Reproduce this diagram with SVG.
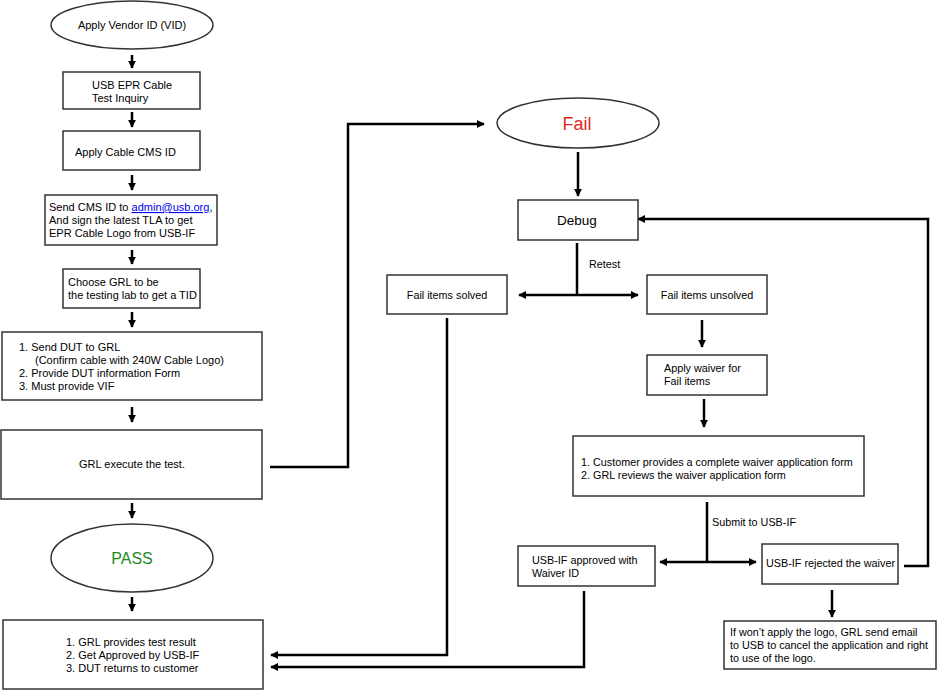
<svg xmlns="http://www.w3.org/2000/svg" width="939" height="690" viewBox="0 0 939 690">
<defs>
<marker id="ah" viewBox="0 0 10 10" refX="9" refY="5" markerWidth="3.2" markerHeight="3.2" orient="auto-start-reverse" markerUnits="strokeWidth">
<path d="M0,0 L10,5 L0,10 z" fill="#000"/>
</marker>
<style>
.n{fill:#fff;stroke:#333;stroke-width:1.5}
.t{font-family:"Liberation Sans",Arial,sans-serif;font-size:11px;fill:#000}
.s{font-size:10.8px}
.m{text-anchor:middle}
.c{fill:none;stroke:#000;stroke-width:2.5}
.a{marker-end:url(#ah)}
</style>
</defs>
<rect width="939" height="690" fill="#fff"/>
<g id="connectors">
<path class="c a" d="M132,55 V68"/>
<path class="c a" d="M132,112 V127"/>
<path class="c a" d="M132,175 V190"/>
<path class="c a" d="M132,250 V264"/>
<path class="c a" d="M132,312 V327"/>
<path class="c a" d="M132,407 V422"/>
<path class="c a" d="M132,503 V518"/>
<path class="c a" d="M132,597 V611"/>
<path class="c a" d="M270,467 H348 V124 H484"/>
<path class="c a" d="M578,152 V196"/>
<path class="c" d="M577,243 V295"/>
<path class="c a" d="M577,295 H519"/>
<path class="c a" d="M577,295 H638"/>
<path class="c a" d="M702,320 V347"/>
<path class="c a" d="M704,399 V427"/>
<path class="c" d="M707,502 V562"/>
<path class="c a" d="M707,562 H660"/>
<path class="c a" d="M707,562 H756"/>
<path class="c a" d="M904,566 H928 V219 H638"/>
<path class="c a" d="M832,590 V617"/>
<path class="c a" d="M447,318 V655 H271"/>
<path class="c a" d="M584,591 V667 H271"/>
<text class="t s" x="589" y="268">Retest</text>
<text class="t s" x="712" y="526">Submit to USB-IF</text>
</g>
<g id="vid">
<ellipse class="n" cx="132" cy="25" rx="81" ry="24"/>
<text class="t m" x="132" y="29">Apply Vendor ID (VID)</text>
</g>
<g id="inquiry">
<rect class="n" x="63" y="72" width="137" height="37"/>
<text class="t" x="92" y="89">USB EPR Cable</text>
<text class="t" x="92" y="102">Test Inquiry</text>
</g>
<g id="cms">
<rect class="n" x="63" y="131" width="137" height="39"/>
<text class="t" x="75" y="156">Apply Cable CMS ID</text>
</g>
<g id="send-cms">
<rect class="n" x="45" y="195" width="172" height="50"/>
<text class="t" x="49" y="211">Send CMS ID to <tspan fill="#0000ee" text-decoration="underline">admin@usb.org</tspan>,</text>
<text class="t" x="49" y="224">And sign the latest TLA to get</text>
<text class="t" x="49" y="237">EPR Cable Logo from USB-IF</text>
</g>
<g id="choose-grl">
<rect class="n" x="63" y="269" width="137" height="39"/>
<text class="t" x="68" y="286">Choose GRL to be</text>
<text class="t" x="68" y="299">the testing lab to get a TID</text>
</g>
<g id="send-dut">
<rect class="n" x="2" y="332" width="260" height="68"/>
<text class="t" x="19" y="351">1. Send DUT to GRL</text>
<text class="t" x="35" y="364">(Confirm cable with 240W Cable Logo)</text>
<text class="t" x="19" y="377">2. Provide DUT information Form</text>
<text class="t" x="19" y="390">3. Must provide VIF</text>
</g>
<g id="execute">
<rect class="n" x="1" y="430" width="261" height="69"/>
<text class="t m" x="132" y="468">GRL execute the test.</text>
</g>
<g id="pass">
<ellipse class="n" cx="132" cy="558" rx="81" ry="34"/>
<text class="t m" x="132" y="564" style="font-size:16px;fill:#1e8a1e">PASS</text>
</g>
<g id="result">
<rect class="n" x="3" y="620" width="260" height="69"/>
<text class="t" x="66" y="646">1. GRL provides test result</text>
<text class="t" x="66" y="659">2. Get Approved by USB-IF</text>
<text class="t" x="66" y="672">3. DUT returns to customer</text>
</g>
<g id="fail">
<ellipse class="n" cx="578" cy="123" rx="81" ry="25"/>
<text class="t m" x="577" y="130" style="font-size:18px;fill:#e8281e">Fail</text>
</g>
<g id="debug">
<rect class="n" x="518" y="200" width="120" height="40"/>
<text class="t m" x="577" y="225" style="font-size:13.5px">Debug</text>
</g>
<g id="solved">
<rect class="n" x="387" y="275" width="120" height="39"/>
<text class="t m s" x="447" y="299">Fail items solved</text>
</g>
<g id="unsolved">
<rect class="n" x="647" y="275" width="120" height="39"/>
<text class="t m s" x="707" y="299">Fail items unsolved</text>
</g>
<g id="apply-waiver">
<rect class="n" x="647" y="355" width="120" height="40"/>
<text class="t s" x="664" y="372">Apply waiver for</text>
<text class="t s" x="664" y="385">Fail items</text>
</g>
<g id="waiver-form">
<rect class="n" x="573" y="436" width="291" height="60"/>
<text class="t s" x="581" y="466">1. Customer provides a complete waiver application form</text>
<text class="t s" x="581" y="479">2. GRL reviews the waiver application form</text>
</g>
<g id="approved">
<rect class="n" x="518" y="546" width="137" height="40"/>
<text class="t s" x="532" y="564">USB-IF approved with</text>
<text class="t s" x="532" y="577">Waiver ID</text>
</g>
<g id="rejected">
<rect class="n" x="762" y="544" width="136" height="40"/>
<text class="t s" x="766" y="567">USB-IF rejected the waiver</text>
</g>
<g id="cancel">
<rect class="n" x="724" y="621" width="212" height="48"/>
<text class="t s" x="730" y="636">If won’t apply the logo, GRL send email</text>
<text class="t s" x="730" y="649">to USB to cancel the application and right</text>
<text class="t s" x="730" y="662">to use of the logo.</text>
</g>
</svg>
